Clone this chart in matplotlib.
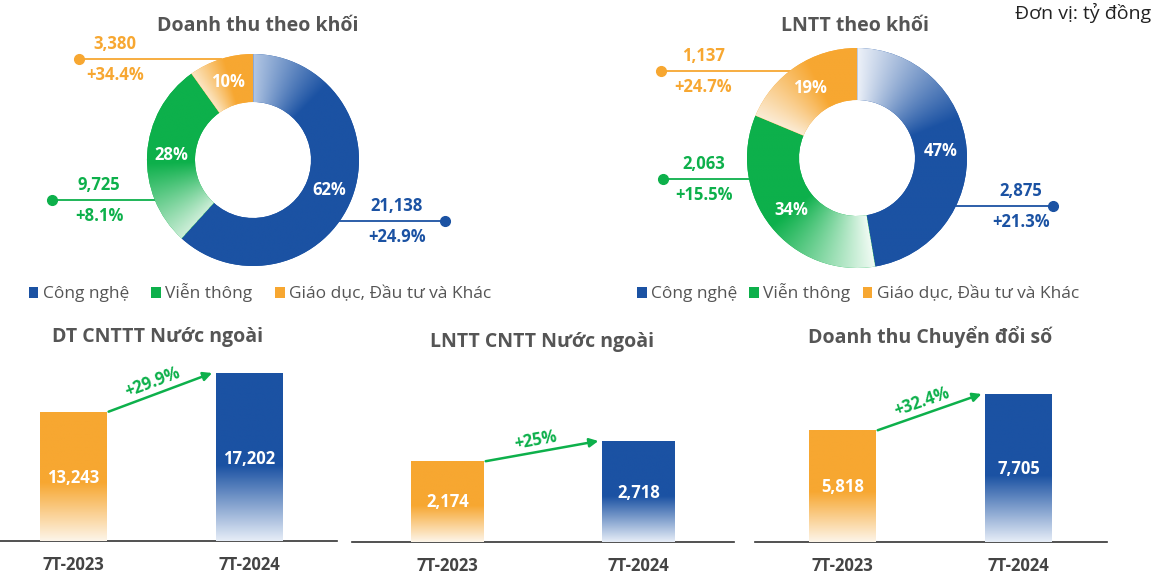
import matplotlib.pyplot as plt
import numpy as np
from matplotlib.patches import Patch
from matplotlib.colors import to_rgb

plt.rcParams['font.family'] = ['Open Sans', 'DejaVu Sans']

# ---- data ----
segments = ['Công nghệ', 'Viễn thông', 'Giáo dục, Đầu tư và Khác']
rev_values = [21138, 9725, 3380]
rev_growth = ['+24.9%', '+8.1%', '+34.4%']
pbt_values = [2875, 2063, 1137]
pbt_growth = ['+21.3%', '+15.5%', '+24.7%']

periods = ['7T-2023', '7T-2024']
foreign_rev = [13243, 17202]
foreign_pbt = [2174, 2718]
digital_rev = [5818, 7705]
bar_growth = ['+29.9%', '+25%', '+32.4%']

# ---- style ----
W, H = 1159, 584
BLUE, GREEN, ORANGE = '#1B52A3', '#0DB04B', '#F7A731'
GREY = '#555555'
seg_colors = [BLUE, GREEN, ORANGE]

fig = plt.figure(figsize=(W / 100, H / 100), dpi=100)


def px_axes(x0, y0, x1, y1):
    # axes rectangle given in image pixels (y downwards)
    return fig.add_axes([x0 / W, 1 - y1 / H, (x1 - x0) / W, (y1 - y0) / H])


def fig_text(x, y, s, **kw):
    fig.text(x / W, 1 - y / H, s, **kw)


def donut(box, center, R, ring, values, growth, lights, fracs, leaders, title, tx):
    ax = px_axes(*box)
    cx, cy = center
    xl = (box[0] - cx, box[2] - cx)
    yl = (cy - box[3], cy - box[1])
    wedges, _, pcts = ax.pie(values, colors=seg_colors, startangle=90, counterclock=False,
                             radius=R, wedgeprops=dict(width=ring, linewidth=0),
                             autopct='%.0f%%', pctdistance=(R - ring / 2) / R,
                             textprops=dict(color='white', fontsize=12, fontweight='bold'))
    for t in pcts:
        t.set_zorder(5)
    # conic gradient: light at the clockwise start of each wedge
    xs = np.linspace(xl[0], xl[1], 900)
    ys = np.linspace(yl[0], yl[1], 400)
    X, Y = np.meshgrid(xs, ys)
    phi = np.degrees(np.arctan2(Y, X))
    for w, dark, lt, f in zip(wedges, seg_colors, lights, fracs):
        span = w.theta2 - w.theta1
        k = np.clip(np.mod(w.theta2 - phi, 360) / span / f, 0, 1)[..., None]
        img = np.array(to_rgb(lt)) * (1 - k) + np.array(to_rgb(dark)) * k
        im = ax.imshow(img, extent=(xl[0], xl[1], yl[0], yl[1]), origin='lower',
                       aspect='auto', zorder=2, interpolation='bilinear')
        im.set_clip_path(w)
    # leader lines with values
    for (ly, dot_x, lab_x), col, v, g in zip(leaders, seg_colors, values, growth):
        edge = np.sign(dot_x) * np.sqrt(R ** 2 - ly ** 2)
        ax.plot([dot_x, edge], [ly, ly], color=col, lw=1.3, zorder=1)
        ax.plot([dot_x], [ly], 'o', color=col, ms=7, zorder=1)
        ax.text(lab_x, ly + 15, f'{v:,}', color=col, fontsize=12, fontweight='bold',
                ha='center', va='center')
        ax.text(lab_x, ly - 16, g, color=col, fontsize=12, fontweight='bold',
                ha='center', va='center')
    ax.set_xlim(*xl)
    ax.set_ylim(*yl)
    ax.axis('off')
    fig_text(tx, 26, title, ha='center', va='center', fontsize=14,
             fontweight='bold', color=GREY)
    return ax


donut((0, 36, 560, 284), (253, 160), 106, 48, rev_values, rev_growth,
      ['#b3c7e4', '#cdeed8', '#fbe6c4'], [0.2, 0.45, 0.55],
      [(-61, 192, 144), (-40, -201, -154), (101, -174, -138)],
      'Doanh thu theo khối', 258)
donut((600, 36, 1100, 284), (857, 158), 110, 52, pbt_values, pbt_growth,
      ['#eef2f9', '#f1fbf4', '#fbecd6'], [0.4, 0.5, 0.6],
      [(-48, 196, 164), (-21, -194, -153), (87, -196, -154)],
      'LNTT theo khối', 855)

fig_text(1151, 13, 'Đơn vị: tỷ đồng', ha='right', va='center', fontsize=14, color='#222222')

# legends
for cx, cs in [(260, 1.3), (858, 0.7)]:
    handles = [Patch(facecolor=c, edgecolor='none') for c in seg_colors]
    fig.legend(handles, segments, loc='center', bbox_to_anchor=(cx / W, 1 - 293 / H),
               ncol=3, frameon=False, handlelength=0.55, handleheight=0.55,
               handletextpad=0.25, columnspacing=cs, labelcolor=GREY,
               prop=dict(size=12.5))


# ---- bar panels ----
def bar_panel(box, ymax, vals, growth, title, tx, ty):
    ax = px_axes(*box)
    width = 0.38
    bars = ax.bar([0, 1], vals, width=width, color=[ORANGE, BLUE], zorder=2)
    ax.set_xlim(-0.5, 1.5)
    ax.set_ylim(0, ymax)
    lights = ['#fdf5e9', '#e6edf7']
    t = np.linspace(0, 1, 200)[:, None]
    k = np.clip(t / 0.45, 0, 1)[..., None]
    for b, dark, lt in zip(bars, [ORANGE, BLUE], lights):
        img = np.array(to_rgb(lt)) * (1 - k) + np.array(to_rgb(dark)) * k
        img = np.repeat(img, 2, axis=1)
        im = ax.imshow(img, extent=(b.get_x(), b.get_x() + width, 0, b.get_height()),
                       origin='lower', aspect='auto', zorder=3, interpolation='bilinear')
        im.set_clip_path(b)
    for i, v in enumerate(vals):
        ax.text(i, v * 0.49, f'{v:,}', ha='center', va='center', color='white',
                fontsize=12, fontweight='bold', zorder=5)
    # growth arrow
    p0 = (width / 2 + 0.01, vals[0])
    p1 = (1 - width / 2 - 0.02, vals[1])
    ax.annotate('', xy=p1, xytext=p0,
                arrowprops=dict(arrowstyle='-|>', color=GREEN, lw=1.8,
                                mutation_scale=13, shrinkA=0, shrinkB=0))
    d0 = ax.transData.transform(p0)
    d1 = ax.transData.transform(p1)
    ang = np.arctan2(d1[1] - d0[1], d1[0] - d0[0])
    mid = ((p0[0] + p1[0]) / 2, (p0[1] + p1[1]) / 2)
    off = (-12 * np.sin(ang) - 4 * np.cos(ang), 12 * np.cos(ang) - 4 * np.sin(ang))
    ax.annotate(growth, xy=mid, xytext=off, textcoords='offset pixels',
                ha='center', va='center', rotation=np.degrees(ang),
                color=GREEN, fontsize=12, fontweight='bold')
    for s in ['top', 'right', 'left']:
        ax.spines[s].set_visible(False)
    ax.spines['bottom'].set_color('#333333')
    ax.spines['bottom'].set_linewidth(1.2)
    ax.set_yticks([])
    ax.set_xticks([0, 1])
    ax.set_xticklabels(periods, fontsize=12, fontweight='bold', color='#444444')
    ax.tick_params(axis='x', length=0, pad=11)
    ax.patch.set_alpha(0)
    fig_text(tx, ty, title, ha='center', va='center', fontsize=14,
             fontweight='bold', color=GREY)


bar_panel((-14.25, 351, 336.75, 541), 19455, foreign_rev, bar_growth[0],
          'DT CNTTT Nước ngoài', 158, 337)
bar_panel((352, 352, 734, 542), 5113, foreign_pbt, bar_growth[1],
          'LNTT CNTT Nước ngoài', 542, 342)
bar_panel((754.5, 352, 1106.5, 542), 9892, digital_rev, bar_growth[2],
          'Doanh thu Chuyển đổi số', 930, 337)

fig.savefig('out.png', dpi=100)
